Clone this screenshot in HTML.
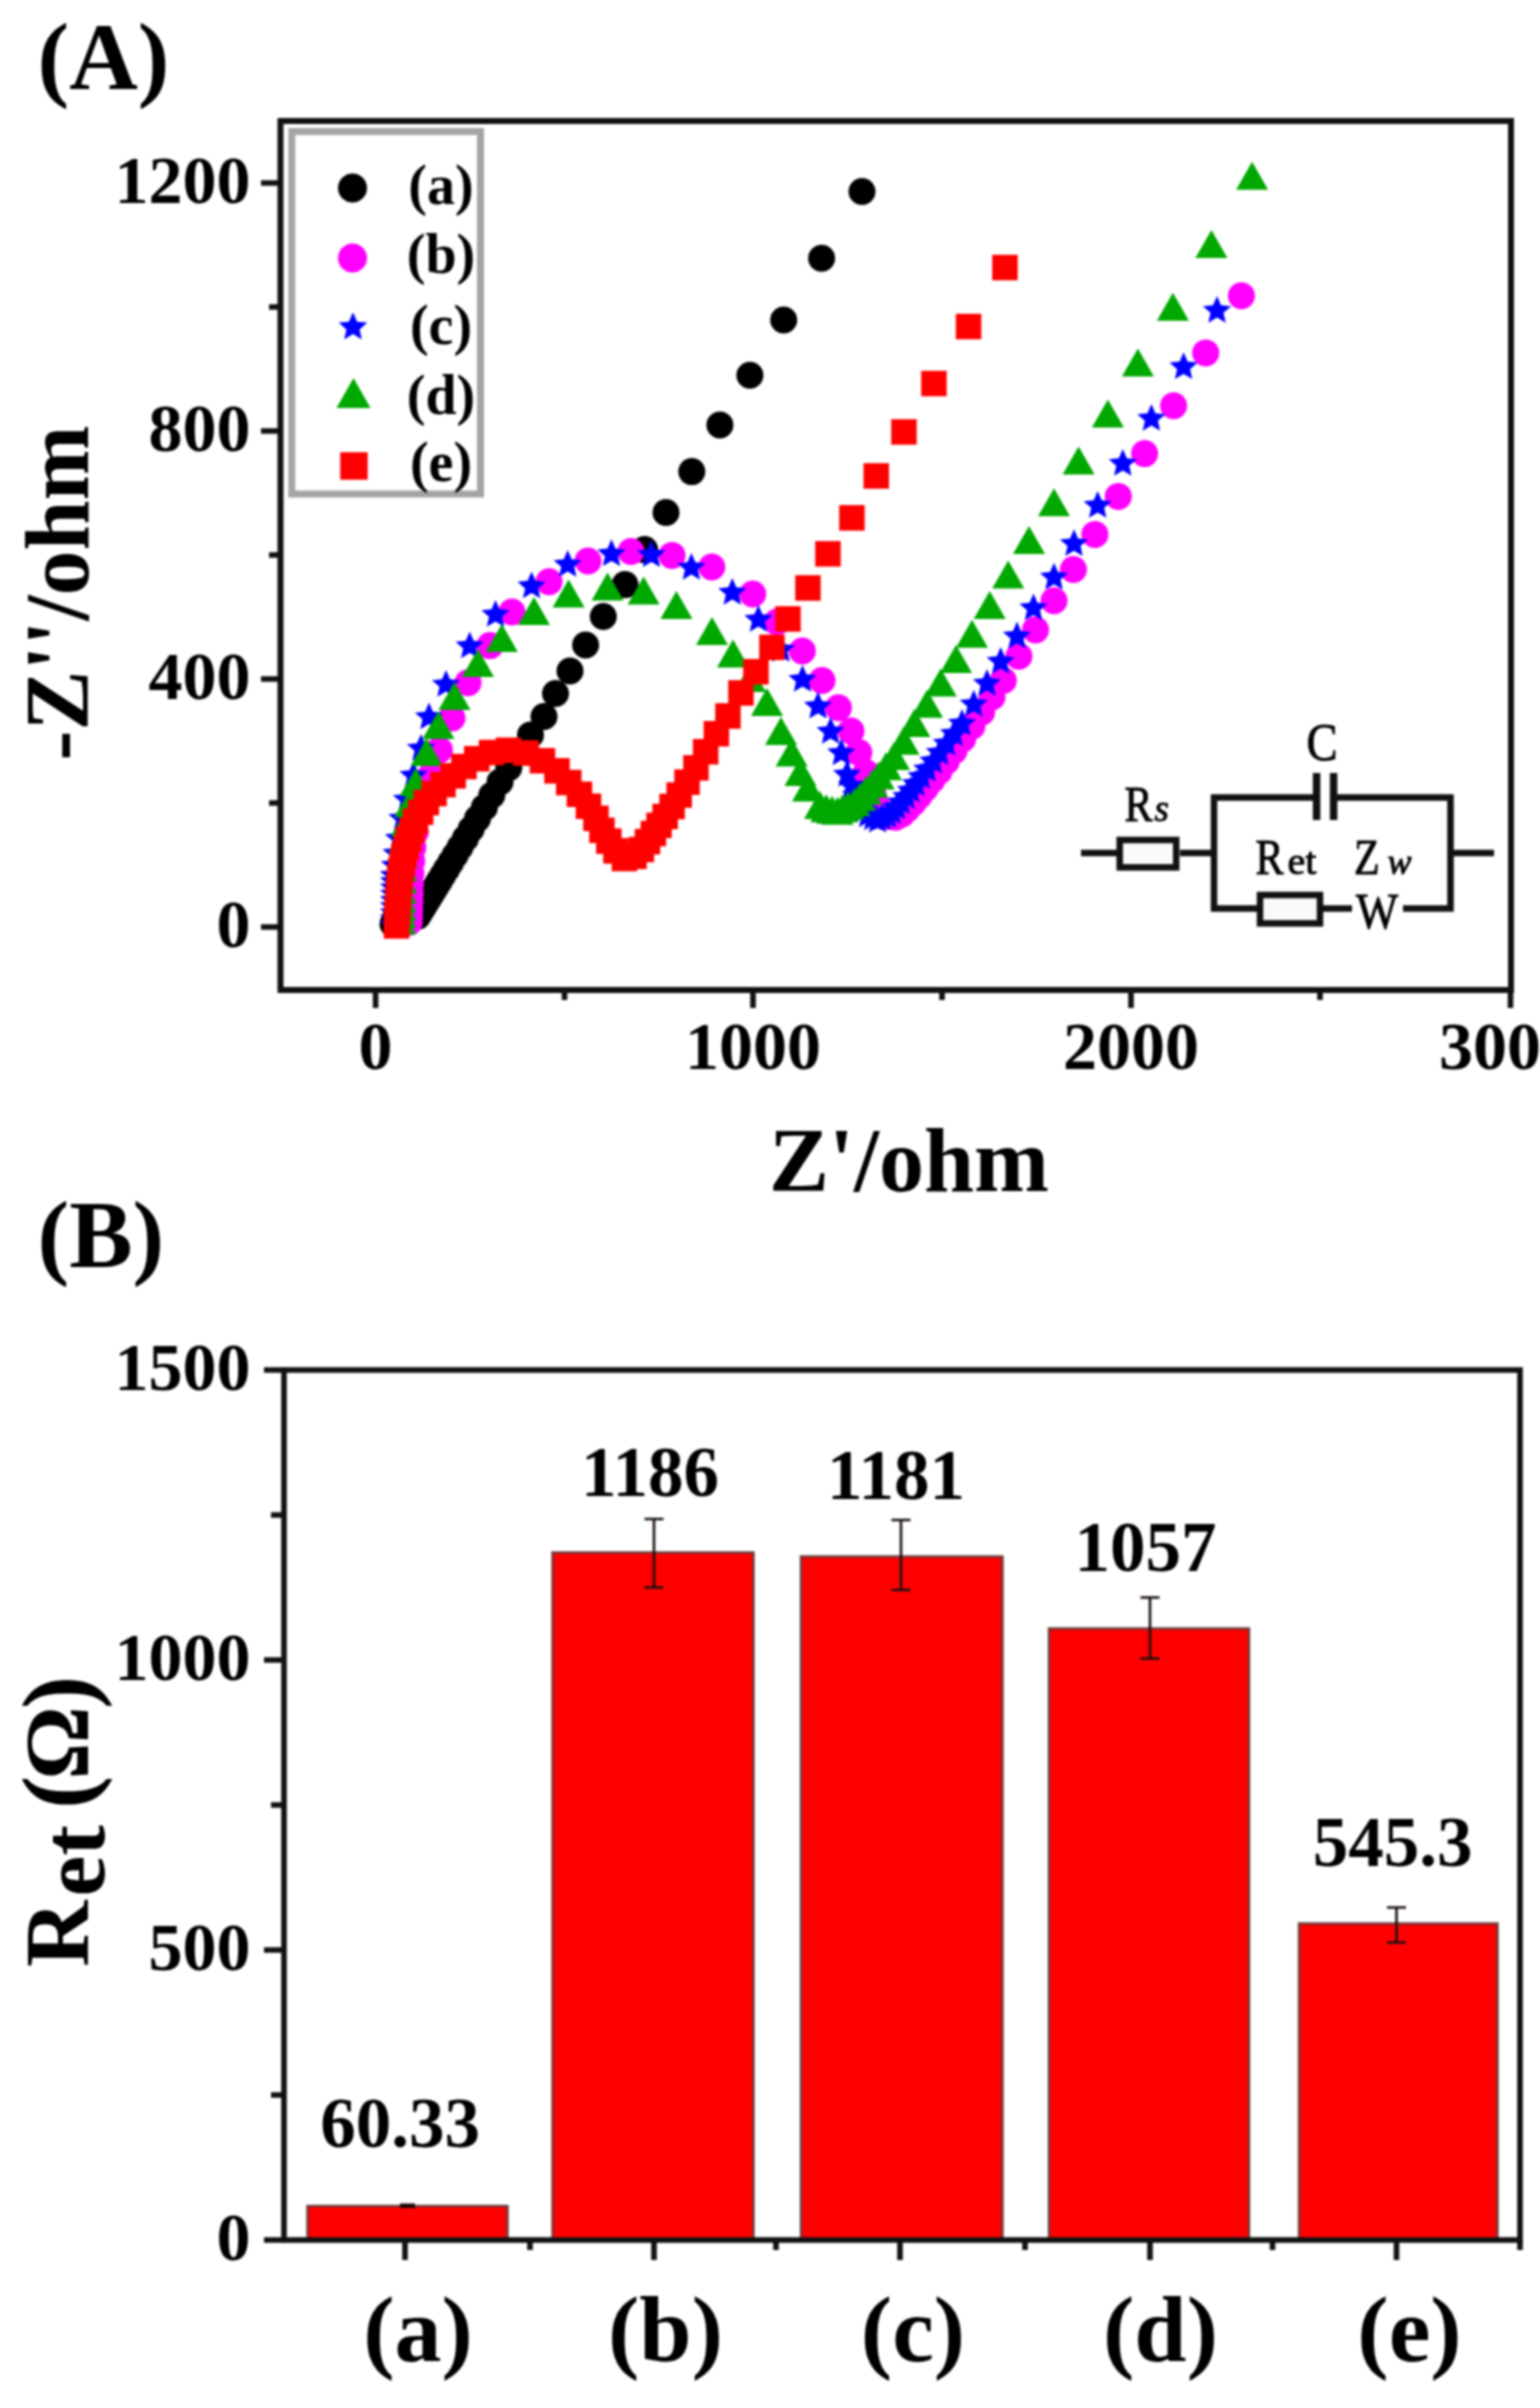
<!DOCTYPE html>
<html lang="en"><head><meta charset="utf-8"><title>EIS Nyquist plots and Ret bar chart</title>
<style>html,body{margin:0;padding:0;background:#fff}svg{display:block;filter:blur(1.2px)}</style></head>
<body>
<svg width="1540" height="2408" viewBox="0 0 1540 2408">
<rect width="1540" height="2408" fill="#fff"/>
<g id="chartA">
<rect x="291.8" y="131.5" width="188.7" height="362.5" fill="#fff" stroke="#a4a4a4" stroke-width="7"/>
<g id="sa"><circle cx="862.0" cy="191.5" r="13.5" fill="#000"/><circle cx="821.6" cy="258.2" r="13.5" fill="#000"/><circle cx="783.7" cy="320.0" r="13.5" fill="#000"/><circle cx="749.9" cy="375.2" r="13.5" fill="#000"/><circle cx="719.9" cy="425.0" r="13.5" fill="#000"/><circle cx="691.8" cy="471.6" r="13.5" fill="#000"/><circle cx="666.0" cy="512.5" r="13.5" fill="#000"/><circle cx="644.6" cy="549.6" r="13.5" fill="#000"/><circle cx="625.0" cy="584.6" r="13.5" fill="#000"/><circle cx="603.3" cy="616.5" r="13.5" fill="#000"/><circle cx="585.6" cy="645.0" r="13.5" fill="#000"/><circle cx="570.0" cy="671.0" r="13.5" fill="#000"/><circle cx="555.5" cy="693.5" r="13.5" fill="#000"/><circle cx="544.0" cy="716.5" r="13.5" fill="#000"/><circle cx="530.5" cy="735.0" r="13.5" fill="#000"/><circle cx="518.4" cy="752.0" r="13.5" fill="#000"/><circle cx="508.8" cy="767.6" r="13.5" fill="#000"/><circle cx="500.0" cy="782.0" r="13.5" fill="#000"/><circle cx="491.8" cy="795.3" r="13.5" fill="#000"/><circle cx="484.4" cy="807.4" r="13.5" fill="#000"/><circle cx="477.5" cy="818.6" r="13.5" fill="#000"/><circle cx="471.2" cy="829.0" r="13.5" fill="#000"/><circle cx="465.4" cy="838.4" r="13.5" fill="#000"/><circle cx="460.0" cy="847.2" r="13.5" fill="#000"/><circle cx="455.1" cy="855.2" r="13.5" fill="#000"/><circle cx="450.6" cy="862.6" r="13.5" fill="#000"/><circle cx="446.4" cy="869.4" r="13.5" fill="#000"/><circle cx="442.6" cy="875.6" r="13.5" fill="#000"/><circle cx="439.1" cy="881.4" r="13.5" fill="#000"/><circle cx="435.8" cy="886.7" r="13.5" fill="#000"/><circle cx="432.8" cy="891.5" r="13.5" fill="#000"/><circle cx="430.1" cy="896.0" r="13.5" fill="#000"/><circle cx="427.6" cy="900.1" r="13.5" fill="#000"/><circle cx="425.1" cy="904.1" r="13.5" fill="#000"/><circle cx="422.7" cy="908.1" r="13.5" fill="#000"/><circle cx="420.2" cy="912.1" r="13.5" fill="#000"/><circle cx="417.8" cy="916.1" r="13.5" fill="#000"/><circle cx="414.0" cy="916.0" r="13.5" fill="#000"/><circle cx="410.0" cy="912.0" r="13.5" fill="#000"/><circle cx="405.0" cy="909.0" r="13.5" fill="#000"/><circle cx="401.0" cy="910.0" r="13.5" fill="#000"/><circle cx="397.0" cy="914.0" r="13.5" fill="#000"/><circle cx="395.0" cy="919.0" r="13.5" fill="#000"/><circle cx="393.0" cy="924.0" r="13.5" fill="#000"/></g>
<g id="sb"><circle cx="1241.4" cy="295.7" r="13.5" fill="#ff00ff"/><circle cx="1205.7" cy="352.9" r="13.5" fill="#ff00ff"/><circle cx="1173.6" cy="405.7" r="13.5" fill="#ff00ff"/><circle cx="1144.6" cy="453.6" r="13.5" fill="#ff00ff"/><circle cx="1118.3" cy="496.4" r="13.5" fill="#ff00ff"/><circle cx="1094.9" cy="534.4" r="13.5" fill="#ff00ff"/><circle cx="1073.4" cy="569.5" r="13.5" fill="#ff00ff"/><circle cx="1054.0" cy="600.7" r="13.5" fill="#ff00ff"/><circle cx="1035.5" cy="629.9" r="13.5" fill="#ff00ff"/><circle cx="1018.9" cy="656.2" r="13.5" fill="#ff00ff"/><circle cx="1003.3" cy="680.5" r="13.5" fill="#ff00ff"/><circle cx="992.0" cy="697.0" r="13.5" fill="#ff00ff"/><circle cx="981.6" cy="712.3" r="13.5" fill="#ff00ff"/><circle cx="971.9" cy="726.2" r="13.5" fill="#ff00ff"/><circle cx="962.6" cy="738.9" r="13.5" fill="#ff00ff"/><circle cx="954.1" cy="750.7" r="13.5" fill="#ff00ff"/><circle cx="946.2" cy="761.5" r="13.5" fill="#ff00ff"/><circle cx="938.9" cy="771.4" r="13.5" fill="#ff00ff"/><circle cx="931.7" cy="780.3" r="13.5" fill="#ff00ff"/><circle cx="925.1" cy="788.4" r="13.5" fill="#ff00ff"/><circle cx="919.0" cy="796.0" r="13.5" fill="#ff00ff"/><circle cx="913.2" cy="802.8" r="13.5" fill="#ff00ff"/><circle cx="907.4" cy="808.6" r="13.5" fill="#ff00ff"/><circle cx="902.0" cy="814.0" r="13.5" fill="#ff00ff"/><circle cx="895.7" cy="817.2" r="13.5" fill="#ff00ff"/><circle cx="885.1" cy="816.6" r="13.5" fill="#ff00ff"/><circle cx="879.7" cy="812.3" r="13.5" fill="#ff00ff"/><circle cx="876.7" cy="804.6" r="13.5" fill="#ff00ff"/><circle cx="873.3" cy="795.7" r="13.5" fill="#ff00ff"/><circle cx="870.0" cy="785.1" r="13.5" fill="#ff00ff"/><circle cx="866.1" cy="772.7" r="13.5" fill="#ff00ff"/><circle cx="858.8" cy="752.5" r="13.5" fill="#ff00ff"/><circle cx="851.0" cy="731.0" r="13.5" fill="#ff00ff"/><circle cx="838.4" cy="707.7" r="13.5" fill="#ff00ff"/><circle cx="822.0" cy="680.5" r="13.5" fill="#ff00ff"/><circle cx="802.3" cy="651.0" r="13.5" fill="#ff00ff"/><circle cx="777.0" cy="622.0" r="13.5" fill="#ff00ff"/><circle cx="752.7" cy="594.0" r="13.5" fill="#ff00ff"/><circle cx="711.8" cy="567.0" r="13.5" fill="#ff00ff"/><circle cx="672.0" cy="555.4" r="13.5" fill="#ff00ff"/><circle cx="631.0" cy="551.5" r="13.5" fill="#ff00ff"/><circle cx="588.0" cy="561.0" r="13.5" fill="#ff00ff"/><circle cx="549.0" cy="581.7" r="13.5" fill="#ff00ff"/><circle cx="512.0" cy="612.0" r="13.5" fill="#ff00ff"/><circle cx="490.0" cy="645.6" r="13.5" fill="#ff00ff"/><circle cx="468.0" cy="682.7" r="13.5" fill="#ff00ff"/><circle cx="452.0" cy="718.0" r="13.5" fill="#ff00ff"/><circle cx="439.4" cy="750.0" r="13.5" fill="#ff00ff"/><circle cx="431.0" cy="775.6" r="13.5" fill="#ff00ff"/><circle cx="424.1" cy="796.5" r="13.5" fill="#ff00ff"/><circle cx="418.8" cy="815.3" r="13.5" fill="#ff00ff"/><circle cx="415.2" cy="832.3" r="13.5" fill="#ff00ff"/><circle cx="412.8" cy="847.5" r="13.5" fill="#ff00ff"/><circle cx="411.7" cy="861.1" r="13.5" fill="#ff00ff"/><circle cx="410.9" cy="873.2" r="13.5" fill="#ff00ff"/><circle cx="410.4" cy="884.0" r="13.5" fill="#ff00ff"/><circle cx="410.1" cy="893.6" r="13.5" fill="#ff00ff"/><circle cx="409.8" cy="902.1" r="13.5" fill="#ff00ff"/><circle cx="409.5" cy="909.7" r="13.5" fill="#ff00ff"/><circle cx="409.3" cy="916.4" r="13.5" fill="#ff00ff"/><circle cx="409.1" cy="922.3" r="13.5" fill="#ff00ff"/></g>
<g id="sc"><path d="M1217.0 295.9L1221.0 305.2L1231.1 306.2L1223.5 312.8L1225.7 322.7L1217.0 317.5L1208.3 322.7L1210.5 312.8L1202.9 306.2L1213.0 305.2Z" fill="#0000ff"/><path d="M1183.6 352.3L1187.6 361.6L1197.7 362.6L1190.1 369.2L1192.3 379.1L1183.6 373.9L1174.9 379.1L1177.1 369.2L1169.5 362.6L1179.6 361.6Z" fill="#0000ff"/><path d="M1151.4 403.9L1155.4 413.2L1165.5 414.2L1157.9 420.8L1160.1 430.7L1151.4 425.5L1142.7 430.7L1144.9 420.8L1137.3 414.2L1147.4 413.2Z" fill="#0000ff"/><path d="M1122.8 448.9L1126.8 458.2L1136.9 459.2L1129.3 465.8L1131.5 475.7L1122.8 470.5L1114.1 475.7L1116.3 465.8L1108.7 459.2L1118.8 458.2Z" fill="#0000ff"/><path d="M1097.7 490.9L1101.7 500.2L1111.8 501.2L1104.2 507.8L1106.4 517.7L1097.7 512.5L1089.0 517.7L1091.2 507.8L1083.6 501.2L1093.7 500.2Z" fill="#0000ff"/><path d="M1074.0 529.2L1078.0 538.5L1088.1 539.5L1080.5 546.1L1082.7 556.0L1074.0 550.8L1065.3 556.0L1067.5 546.1L1059.9 539.5L1070.0 538.5Z" fill="#0000ff"/><path d="M1054.0 562.7L1058.0 572.0L1068.1 573.0L1060.5 579.6L1062.7 589.5L1054.0 584.3L1045.3 589.5L1047.5 579.6L1039.9 573.0L1050.0 572.0Z" fill="#0000ff"/><path d="M1033.5 593.4L1037.5 602.7L1047.6 603.7L1040.0 610.3L1042.2 620.2L1033.5 615.0L1024.8 620.2L1027.0 610.3L1019.4 603.7L1029.5 602.7Z" fill="#0000ff"/><path d="M1017.0 621.6L1021.0 630.9L1031.1 631.9L1023.5 638.5L1025.7 648.4L1017.0 643.2L1008.3 648.4L1010.5 638.5L1002.9 631.9L1013.0 630.9Z" fill="#0000ff"/><path d="M1000.7 646.9L1004.7 656.2L1014.8 657.2L1007.2 663.8L1009.4 673.7L1000.7 668.5L992.0 673.7L994.2 663.8L986.6 657.2L996.7 656.2Z" fill="#0000ff"/><path d="M987.0 668.9L991.0 678.2L1001.1 679.2L993.5 685.8L995.7 695.7L987.0 690.5L978.3 695.7L980.5 685.8L972.9 679.2L983.0 678.2Z" fill="#0000ff"/><path d="M973.8 689.7L977.8 699.0L987.9 700.0L980.3 706.6L982.5 716.5L973.8 711.3L965.1 716.5L967.3 706.6L959.7 700.0L969.8 699.0Z" fill="#0000ff"/><path d="M962.0 708.9L966.0 718.2L976.1 719.2L968.5 725.8L970.7 735.7L962.0 730.5L953.3 735.7L955.5 725.8L947.9 719.2L958.0 718.2Z" fill="#0000ff"/><path d="M954.1 719.3L958.1 728.6L968.2 729.5L960.6 736.2L962.8 746.1L954.1 740.9L945.4 746.1L947.6 736.2L940.0 729.5L950.1 728.6Z" fill="#0000ff"/><path d="M946.7 729.0L950.7 738.3L960.8 739.2L953.2 745.9L955.4 755.8L946.7 750.6L938.0 755.8L940.3 745.9L932.7 739.2L942.7 738.3Z" fill="#0000ff"/><path d="M939.8 738.1L943.8 747.4L953.9 748.3L946.3 755.0L948.5 764.9L939.8 759.7L931.1 764.9L933.3 755.0L925.7 748.3L935.8 747.4Z" fill="#0000ff"/><path d="M933.3 746.7L937.3 755.9L947.3 756.9L939.7 763.6L942.0 773.4L933.3 768.3L924.6 773.4L926.8 763.6L919.2 756.9L929.3 755.9Z" fill="#0000ff"/><path d="M927.2 754.7L931.2 764.0L941.2 764.9L933.6 771.6L935.9 781.5L927.2 776.3L918.5 781.5L920.7 771.6L913.1 764.9L923.2 764.0Z" fill="#0000ff"/><path d="M921.4 762.2L925.4 771.5L935.5 772.5L927.9 779.1L930.1 789.0L921.4 783.8L912.7 789.0L915.0 779.1L907.4 772.5L917.4 771.5Z" fill="#0000ff"/><path d="M916.1 769.3L920.1 778.6L930.1 779.6L922.5 786.2L924.8 796.1L916.1 790.9L907.4 796.1L909.6 786.2L902.0 779.6L912.1 778.6Z" fill="#0000ff"/><path d="M911.0 776.0L915.0 785.3L925.1 786.2L917.5 792.9L919.7 802.8L911.0 797.6L902.3 802.8L904.6 792.9L897.0 786.2L907.0 785.3Z" fill="#0000ff"/><path d="M906.3 782.2L910.3 791.5L920.4 792.5L912.8 799.1L915.0 809.0L906.3 803.8L897.6 809.0L899.8 799.1L892.2 792.5L902.3 791.5Z" fill="#0000ff"/><path d="M901.4 787.7L905.4 797.0L915.5 798.0L907.9 804.6L910.1 814.5L901.4 809.3L892.7 814.5L895.0 804.6L887.4 798.0L897.4 797.0Z" fill="#0000ff"/><path d="M896.7 792.8L900.7 802.1L910.8 803.0L903.2 809.7L905.4 819.5L896.7 814.4L888.0 819.5L890.2 809.7L882.6 803.0L892.7 802.1Z" fill="#0000ff"/><path d="M892.3 797.5L896.3 806.8L906.4 807.7L898.8 814.4L901.0 824.3L892.3 819.1L883.6 824.3L885.8 814.4L878.2 807.7L888.3 806.8Z" fill="#0000ff"/><path d="M887.5 801.1L891.5 810.4L901.6 811.3L894.0 818.0L896.2 827.9L887.5 822.7L878.8 827.9L881.0 818.0L873.4 811.3L883.5 810.4Z" fill="#0000ff"/><path d="M882.3 803.5L886.3 812.8L896.4 813.7L888.8 820.4L891.0 830.3L882.3 825.1L873.6 830.3L875.9 820.4L868.3 813.7L878.3 812.8Z" fill="#0000ff"/><path d="M877.5 805.7L881.5 815.0L891.5 816.0L883.9 822.6L886.2 832.5L877.5 827.3L868.8 832.5L871.0 822.6L863.4 816.0L873.5 815.0Z" fill="#0000ff"/><path d="M872.7 803.4L876.7 812.7L886.8 813.6L879.2 820.3L881.4 830.2L872.7 825.0L864.0 830.2L866.2 820.3L858.6 813.6L868.7 812.7Z" fill="#0000ff"/><path d="M867.7 800.5L871.7 809.8L881.8 810.7L874.2 817.4L876.4 827.3L867.7 822.1L859.0 827.3L861.2 817.4L853.6 810.7L863.7 809.8Z" fill="#0000ff"/><path d="M863.4 795.7L867.4 805.0L877.5 805.9L869.9 812.6L872.1 822.5L863.4 817.3L854.7 822.5L856.9 812.6L849.3 805.9L859.4 805.0Z" fill="#0000ff"/><path d="M859.9 788.8L863.9 798.1L874.0 799.0L866.4 805.7L868.6 815.5L859.9 810.4L851.2 815.5L853.4 805.7L845.8 799.0L855.9 798.1Z" fill="#0000ff"/><path d="M855.9 780.7L859.9 790.0L870.0 790.9L862.4 797.6L864.6 807.5L855.9 802.3L847.2 807.5L849.4 797.6L841.8 790.9L851.9 790.0Z" fill="#0000ff"/><path d="M851.8 771.1L855.8 780.4L865.9 781.4L858.3 788.0L860.5 797.9L851.8 792.7L843.1 797.9L845.3 788.0L837.7 781.4L847.8 780.4Z" fill="#0000ff"/><path d="M847.0 760.0L851.0 769.3L861.1 770.3L853.5 776.9L855.7 786.8L847.0 781.6L838.3 786.8L840.6 776.9L833.0 770.3L843.0 769.3Z" fill="#0000ff"/><path d="M841.3 738.4L845.3 747.7L855.4 748.7L847.8 755.3L850.0 765.2L841.3 760.0L832.6 765.2L834.8 755.3L827.2 748.7L837.3 747.7Z" fill="#0000ff"/><path d="M830.6 716.9L834.6 726.2L844.7 727.2L837.1 733.8L839.3 743.7L830.6 738.5L821.9 743.7L824.1 733.8L816.5 727.2L826.6 726.2Z" fill="#0000ff"/><path d="M818.0 691.6L822.0 700.9L832.1 701.9L824.5 708.5L826.7 718.4L818.0 713.2L809.3 718.4L811.5 708.5L803.9 701.9L814.0 700.9Z" fill="#0000ff"/><path d="M802.5 664.9L806.5 674.2L816.6 675.2L809.0 681.8L811.2 691.7L802.5 686.5L793.8 691.7L796.0 681.8L788.4 675.2L798.5 674.2Z" fill="#0000ff"/><path d="M781.0 634.9L785.0 644.2L795.1 645.2L787.5 651.8L789.7 661.7L781.0 656.5L772.3 661.7L774.5 651.8L766.9 645.2L777.0 644.2Z" fill="#0000ff"/><path d="M758.4 604.9L762.4 614.2L772.5 615.2L764.9 621.8L767.1 631.7L758.4 626.5L749.7 631.7L751.9 621.8L744.3 615.2L754.4 614.2Z" fill="#0000ff"/><path d="M732.3 577.9L736.3 587.2L746.4 588.2L738.8 594.8L741.0 604.7L732.3 599.5L723.6 604.7L725.8 594.8L718.2 588.2L728.3 587.2Z" fill="#0000ff"/><path d="M691.4 552.9L695.4 562.2L705.5 563.2L697.9 569.8L700.1 579.7L691.4 574.5L682.7 579.7L684.9 569.8L677.3 563.2L687.4 562.2Z" fill="#0000ff"/><path d="M651.4 540.3L655.4 549.6L665.5 550.6L657.9 557.2L660.1 567.1L651.4 561.9L642.7 567.1L644.9 557.2L637.3 550.6L647.4 549.6Z" fill="#0000ff"/><path d="M611.5 539.3L615.5 548.6L625.6 549.6L618.0 556.2L620.2 566.1L611.5 560.9L602.8 566.1L605.0 556.2L597.4 549.6L607.5 548.6Z" fill="#0000ff"/><path d="M567.7 549.9L571.7 559.2L581.8 560.2L574.2 566.8L576.4 576.7L567.7 571.5L559.0 576.7L561.2 566.8L553.6 560.2L563.7 559.2Z" fill="#0000ff"/><path d="M531.6 571.5L535.6 580.8L545.7 581.8L538.1 588.4L540.3 598.3L531.6 593.1L522.9 598.3L525.1 588.4L517.5 581.8L527.6 580.8Z" fill="#0000ff"/><path d="M495.5 599.9L499.5 609.2L509.6 610.2L502.0 616.8L504.2 626.7L495.5 621.5L486.8 626.7L489.0 616.8L481.4 610.2L491.5 609.2Z" fill="#0000ff"/><path d="M469.7 631.5L473.7 640.8L483.8 641.8L476.2 648.4L478.4 658.3L469.7 653.1L461.0 658.3L463.2 648.4L455.6 641.8L465.7 640.8Z" fill="#0000ff"/><path d="M446.0 669.9L450.0 679.2L460.1 680.2L452.5 686.8L454.7 696.7L446.0 691.5L437.3 696.7L439.5 686.8L431.9 680.2L442.0 679.2Z" fill="#0000ff"/><path d="M429.0 702.4L433.0 711.7L443.1 712.7L435.5 719.3L437.7 729.2L429.0 724.0L420.3 729.2L422.5 719.3L414.9 712.7L425.0 711.7Z" fill="#0000ff"/><path d="M421.0 733.9L425.0 743.2L435.1 744.2L427.5 750.8L429.7 760.7L421.0 755.5L412.3 760.7L414.5 750.8L406.9 744.2L417.0 743.2Z" fill="#0000ff"/><path d="M413.5 760.9L417.5 770.2L427.6 771.2L420.0 777.8L422.2 787.7L413.5 782.5L404.8 787.7L407.0 777.8L399.4 771.2L409.5 770.2Z" fill="#0000ff"/><path d="M407.0 784.9L411.0 794.2L421.1 795.2L413.5 801.8L415.7 811.7L407.0 806.5L398.3 811.7L400.5 801.8L392.9 795.2L403.0 794.2Z" fill="#0000ff"/><path d="M402.5 803.9L406.5 813.2L416.6 814.2L409.0 820.8L411.2 830.7L402.5 825.5L393.8 830.7L396.0 820.8L388.4 814.2L398.5 813.2Z" fill="#0000ff"/><path d="M399.0 823.9L403.0 833.2L413.1 834.2L405.5 840.8L407.7 850.7L399.0 845.5L390.3 850.7L392.5 840.8L384.9 834.2L395.0 833.2Z" fill="#0000ff"/><path d="M396.6 838.9L400.6 848.2L410.7 849.2L403.1 855.8L405.3 865.7L396.6 860.5L387.9 865.7L390.1 855.8L382.5 849.2L392.6 848.2Z" fill="#0000ff"/><path d="M395.0 850.9L399.0 860.2L409.1 861.2L401.5 867.8L403.7 877.7L395.0 872.5L386.3 877.7L388.5 867.8L380.9 861.2L391.0 860.2Z" fill="#0000ff"/><path d="M394.0 860.9L398.0 870.2L408.1 871.2L400.5 877.8L402.7 887.7L394.0 882.5L385.3 887.7L387.5 877.8L379.9 871.2L390.0 870.2Z" fill="#0000ff"/><path d="M394.0 867.2L398.0 876.5L408.1 877.4L400.5 884.1L402.7 894.0L394.0 888.8L385.3 894.0L387.5 884.1L379.9 877.4L390.0 876.5Z" fill="#0000ff"/><path d="M394.0 873.4L398.0 882.7L408.1 883.7L400.5 890.3L402.7 900.2L394.0 895.0L385.3 900.2L387.5 890.3L379.9 883.7L390.0 882.7Z" fill="#0000ff"/><path d="M394.0 879.7L398.0 889.0L408.1 889.9L400.5 896.6L402.7 906.5L394.0 901.3L385.3 906.5L387.5 896.6L379.9 889.9L390.0 889.0Z" fill="#0000ff"/><path d="M394.0 885.9L398.0 895.2L408.1 896.2L400.5 902.8L402.7 912.7L394.0 907.5L385.3 912.7L387.5 902.8L379.9 896.2L390.0 895.2Z" fill="#0000ff"/><path d="M394.0 892.2L398.0 901.5L408.1 902.4L400.5 909.1L402.7 919.0L394.0 913.8L385.3 919.0L387.5 909.1L379.9 902.4L390.0 901.5Z" fill="#0000ff"/><path d="M394.0 898.4L398.0 907.7L408.1 908.7L400.5 915.3L402.7 925.2L394.0 920.0L385.3 925.2L387.5 915.3L379.9 908.7L390.0 907.7Z" fill="#0000ff"/><path d="M394.0 904.7L398.0 914.0L408.1 914.9L400.5 921.6L402.7 931.5L394.0 926.3L385.3 931.5L387.5 921.6L379.9 914.9L390.0 914.0Z" fill="#0000ff"/><path d="M394.0 910.9L398.0 920.2L408.1 921.2L400.5 927.8L402.7 937.7L394.0 932.5L385.3 937.7L387.5 927.8L379.9 921.2L390.0 920.2Z" fill="#0000ff"/></g>
<g id="sd"><path d="M1252.1 161.7L1268.1 189.7H1236.1Z" fill="#00a800"/><path d="M1211.4 230.0L1227.4 258.0H1195.4Z" fill="#00a800"/><path d="M1172.9 292.8L1188.9 320.8H1156.9Z" fill="#00a800"/><path d="M1137.9 348.5L1153.9 376.5H1121.9Z" fill="#00a800"/><path d="M1107.9 399.5L1123.9 427.5H1091.9Z" fill="#00a800"/><path d="M1078.6 446.6L1094.6 474.6H1062.6Z" fill="#00a800"/><path d="M1054.0 488.3L1070.0 516.3H1038.0Z" fill="#00a800"/><path d="M1029.0 526.0L1045.0 554.0H1013.0Z" fill="#00a800"/><path d="M1008.2 560.4L1024.2 588.4H992.2Z" fill="#00a800"/><path d="M989.7 591.0L1005.7 619.0H973.7Z" fill="#00a800"/><path d="M972.0 619.8L988.0 647.8H956.0Z" fill="#00a800"/><path d="M956.0 645.0L972.0 673.0H940.0Z" fill="#00a800"/><path d="M940.7 668.5L956.7 696.5H924.7Z" fill="#00a800"/><path d="M927.0 689.8L943.0 717.8H911.0Z" fill="#00a800"/><path d="M914.4 709.0L930.4 737.0H898.4Z" fill="#00a800"/><path d="M903.6 726.8L919.6 754.8H887.6Z" fill="#00a800"/><path d="M894.0 742.0L910.0 770.0H878.0Z" fill="#00a800"/><path d="M886.0 752.2L902.0 780.2H870.0Z" fill="#00a800"/><path d="M878.7 761.4L894.7 789.4H862.7Z" fill="#00a800"/><path d="M872.2 769.7L888.2 797.7H856.2Z" fill="#00a800"/><path d="M865.7 776.6L881.7 804.6H849.7Z" fill="#00a800"/><path d="M859.9 782.9L875.9 810.9H843.9Z" fill="#00a800"/><path d="M854.4 788.3L870.4 816.3H838.4Z" fill="#00a800"/><path d="M848.2 791.4L864.2 819.4H832.2Z" fill="#00a800"/><path d="M842.6 794.2L858.6 822.2H826.6Z" fill="#00a800"/><path d="M837.6 796.7L853.6 824.7H821.6Z" fill="#00a800"/><path d="M832.1 795.8L848.1 823.8H816.1Z" fill="#00a800"/><path d="M826.3 794.3L842.3 822.3H810.3Z" fill="#00a800"/><path d="M820.0 791.1L836.0 819.1H804.0Z" fill="#00a800"/><path d="M808.0 773.5L824.0 801.5H792.0Z" fill="#00a800"/><path d="M800.4 758.0L816.4 786.0H784.4Z" fill="#00a800"/><path d="M791.6 738.5L807.6 766.5H775.6Z" fill="#00a800"/><path d="M781.0 717.0L797.0 745.0H765.0Z" fill="#00a800"/><path d="M767.0 688.0L783.0 716.0H751.0Z" fill="#00a800"/><path d="M750.0 664.0L766.0 692.0H734.0Z" fill="#00a800"/><path d="M733.0 639.5L749.0 667.5H717.0Z" fill="#00a800"/><path d="M712.0 617.0L728.0 645.0H696.0Z" fill="#00a800"/><path d="M676.4 591.0L692.4 619.0H660.4Z" fill="#00a800"/><path d="M643.6 576.5L659.6 604.5H627.6Z" fill="#00a800"/><path d="M607.6 572.6L623.6 600.6H591.6Z" fill="#00a800"/><path d="M568.6 579.4L584.6 607.4H552.6Z" fill="#00a800"/><path d="M534.0 597.0L550.0 625.0H518.0Z" fill="#00a800"/><path d="M501.8 624.0L517.8 652.0H485.8Z" fill="#00a800"/><path d="M478.0 649.0L494.0 677.0H462.0Z" fill="#00a800"/><path d="M454.5 682.0L470.5 710.0H438.5Z" fill="#00a800"/><path d="M438.5 711.0L454.5 739.0H422.5Z" fill="#00a800"/><path d="M426.7 738.0L442.7 766.0H410.7Z" fill="#00a800"/><path d="M415.7 768.0L431.7 796.0H399.7Z" fill="#00a800"/><path d="M410.2 789.3L426.2 817.3H394.2Z" fill="#00a800"/><path d="M406.6 808.4L422.6 836.4H390.6Z" fill="#00a800"/><path d="M404.2 825.3L420.2 853.3H388.2Z" fill="#00a800"/><path d="M402.4 840.3L418.4 868.3H386.4Z" fill="#00a800"/><path d="M401.6 853.6L417.6 881.6H385.6Z" fill="#00a800"/><path d="M401.2 865.4L417.2 893.4H385.2Z" fill="#00a800"/><path d="M400.9 875.7L416.9 903.7H384.9Z" fill="#00a800"/><path d="M400.7 884.9L416.7 912.9H384.7Z" fill="#00a800"/><path d="M400.5 893.0L416.5 921.0H384.5Z" fill="#00a800"/><path d="M400.3 900.1L416.3 928.1H384.3Z" fill="#00a800"/><path d="M400.1 906.4L416.1 934.4H384.1Z" fill="#00a800"/></g>
<g id="se"><rect x="992.2" y="254.8" width="25.5" height="25.5" fill="#ff0000"/><rect x="955.8" y="313.8" width="25.5" height="25.5" fill="#ff0000"/><rect x="921.2" y="370.8" width="25.5" height="25.5" fill="#ff0000"/><rect x="891.2" y="419.2" width="25.5" height="25.5" fill="#ff0000"/><rect x="863.5" y="463.2" width="25.5" height="25.5" fill="#ff0000"/><rect x="839.2" y="505.1" width="25.5" height="25.5" fill="#ff0000"/><rect x="815.2" y="541.1" width="25.5" height="25.5" fill="#ff0000"/><rect x="795.2" y="575.2" width="25.5" height="25.5" fill="#ff0000"/><rect x="775.2" y="606.2" width="25.5" height="25.5" fill="#ff0000"/><rect x="759.2" y="634.6" width="25.5" height="25.5" fill="#ff0000"/><rect x="743.2" y="659.0" width="25.5" height="25.5" fill="#ff0000"/><rect x="728.2" y="680.2" width="25.5" height="25.5" fill="#ff0000"/><rect x="715.2" y="703.2" width="25.5" height="25.5" fill="#ff0000"/><rect x="703.6" y="721.0" width="25.5" height="25.5" fill="#ff0000"/><rect x="692.9" y="739.0" width="25.5" height="25.5" fill="#ff0000"/><rect x="683.2" y="755.1" width="25.5" height="25.5" fill="#ff0000"/><rect x="674.3" y="769.4" width="25.5" height="25.5" fill="#ff0000"/><rect x="666.4" y="782.3" width="25.5" height="25.5" fill="#ff0000"/><rect x="659.3" y="793.7" width="25.5" height="25.5" fill="#ff0000"/><rect x="652.4" y="803.7" width="25.5" height="25.5" fill="#ff0000"/><rect x="646.3" y="812.6" width="25.5" height="25.5" fill="#ff0000"/><rect x="640.6" y="820.8" width="25.5" height="25.5" fill="#ff0000"/><rect x="634.7" y="828.9" width="25.5" height="25.5" fill="#ff0000"/><rect x="628.6" y="836.8" width="25.5" height="25.5" fill="#ff0000"/><rect x="621.2" y="843.6" width="25.5" height="25.5" fill="#ff0000"/><rect x="611.7" y="845.8" width="25.5" height="25.5" fill="#ff0000"/><rect x="603.2" y="838.1" width="25.5" height="25.5" fill="#ff0000"/><rect x="596.1" y="828.4" width="25.5" height="25.5" fill="#ff0000"/><rect x="589.2" y="817.6" width="25.5" height="25.5" fill="#ff0000"/><rect x="583.2" y="805.6" width="25.5" height="25.5" fill="#ff0000"/><rect x="575.7" y="793.5" width="25.5" height="25.5" fill="#ff0000"/><rect x="566.7" y="781.5" width="25.5" height="25.5" fill="#ff0000"/><rect x="556.0" y="769.8" width="25.5" height="25.5" fill="#ff0000"/><rect x="544.2" y="758.1" width="25.5" height="25.5" fill="#ff0000"/><rect x="529.7" y="748.0" width="25.5" height="25.5" fill="#ff0000"/><rect x="513.4" y="740.3" width="25.5" height="25.5" fill="#ff0000"/><rect x="495.7" y="737.5" width="25.5" height="25.5" fill="#ff0000"/><rect x="478.8" y="739.8" width="25.5" height="25.5" fill="#ff0000"/><rect x="464.0" y="746.0" width="25.5" height="25.5" fill="#ff0000"/><rect x="451.2" y="753.8" width="25.5" height="25.5" fill="#ff0000"/><rect x="440.4" y="763.1" width="25.5" height="25.5" fill="#ff0000"/><rect x="430.2" y="771.9" width="25.5" height="25.5" fill="#ff0000"/><rect x="421.3" y="780.8" width="25.5" height="25.5" fill="#ff0000"/><rect x="413.6" y="789.8" width="25.5" height="25.5" fill="#ff0000"/><rect x="407.9" y="799.4" width="25.5" height="25.5" fill="#ff0000"/><rect x="402.7" y="808.5" width="25.5" height="25.5" fill="#ff0000"/><rect x="399.2" y="817.7" width="25.5" height="25.5" fill="#ff0000"/><rect x="395.9" y="826.4" width="25.5" height="25.5" fill="#ff0000"/><rect x="393.4" y="834.8" width="25.5" height="25.5" fill="#ff0000"/><rect x="391.2" y="842.7" width="25.5" height="25.5" fill="#ff0000"/><rect x="389.6" y="850.3" width="25.5" height="25.5" fill="#ff0000"/><rect x="388.2" y="857.4" width="25.5" height="25.5" fill="#ff0000"/><rect x="387.1" y="864.1" width="25.5" height="25.5" fill="#ff0000"/><rect x="386.6" y="870.5" width="25.5" height="25.5" fill="#ff0000"/><rect x="386.1" y="876.6" width="25.5" height="25.5" fill="#ff0000"/><rect x="385.7" y="882.2" width="25.5" height="25.5" fill="#ff0000"/><rect x="385.2" y="887.6" width="25.5" height="25.5" fill="#ff0000"/><rect x="384.9" y="892.6" width="25.5" height="25.5" fill="#ff0000"/><rect x="384.7" y="897.3" width="25.5" height="25.5" fill="#ff0000"/><rect x="384.4" y="901.8" width="25.5" height="25.5" fill="#ff0000"/><rect x="384.2" y="905.9" width="25.5" height="25.5" fill="#ff0000"/><rect x="383.9" y="909.9" width="25.5" height="25.5" fill="#ff0000"/><rect x="383.8" y="913.2" width="25.5" height="25.5" fill="#ff0000"/></g>
<rect x="280.5" y="121" width="1230.5" height="869" fill="none" stroke="#111" stroke-width="6"/>
<path d="M261 183H280.5M261 431H280.5M261 679H280.5M261 927H280.5M269 307H280.5M269 555H280.5M269 803H280.5M375.6 990V1008M753 990V1008M1131 990V1008M1510.5 990V1008M564.5 990V1000M942 990V1000M1320 990V1000" stroke="#111" stroke-width="5.6" fill="none"/>
<g font-family="Liberation Serif, serif" font-weight="bold" font-size="68" fill="#000">
<text x="250.5" y="202.7" text-anchor="end">1200</text>
<text x="250.5" y="450.7" text-anchor="end">800</text>
<text x="250.5" y="698.7" text-anchor="end">400</text>
<text x="250.5" y="946.7" text-anchor="end">0</text>
<text x="375.6" y="1068.5" text-anchor="middle">0</text>
<text x="753" y="1068.5" text-anchor="middle">1000</text>
<text x="1131" y="1068.5" text-anchor="middle">2000</text>
<text x="1507" y="1068.5" text-anchor="middle">3000</text>
</g>
<text x="909" y="1191" text-anchor="middle" font-family="Liberation Serif, serif" font-weight="bold" font-size="90" fill="#000">Z'/ohm</text>
<text transform="translate(88 593) rotate(-90)" text-anchor="middle" font-family="Liberation Serif, serif" font-weight="bold" font-size="90" fill="#000">-Z''/ohm</text>
<text x="37.5" y="88.5" font-family="Liberation Serif, serif" font-weight="bold" font-size="95" fill="#000">(A)</text>
<circle cx="352.5" cy="188.0" r="14.5" fill="#000"/>
<circle cx="352.5" cy="258.0" r="14.5" fill="#ff00ff"/>
<path d="M353.0 312.2L357.1 321.7L367.3 322.6L359.6 329.4L361.8 339.4L353.0 334.1L344.2 339.4L346.4 329.4L338.7 322.6L348.9 321.7Z" fill="#0000ff"/>
<path d="M353.5 378.0L370.5 408.0H336.5Z" fill="#00a800"/>
<rect x="340.2" y="452.2" width="27.5" height="27.5" fill="#ff0000"/>
<g font-family="Liberation Serif, serif" font-weight="bold" font-size="56" fill="#000">
<text x="441" y="203.5" text-anchor="middle">(a)</text>
<text x="441" y="272.5" text-anchor="middle">(b)</text>
<text x="441" y="343.5" text-anchor="middle">(c)</text>
<text x="441" y="413.5" text-anchor="middle">(d)</text>
<text x="441" y="480.5" text-anchor="middle">(e)</text>
</g>
<g stroke="#111" stroke-width="6.5" fill="none">
<path d="M1081 853H1117M1180 853H1214M1450.5 853H1494"/>
<rect x="1119.7" y="840" width="56.5" height="27.4" fill="#fafafa"/>
<path d="M1316.6 797.5H1214V908.5H1257M1322 908.5H1352M1403 908.5H1450.5V797.5H1333.6"/>
<path d="M1316.6 773V820M1333.6 773V820" stroke-width="7.5"/>
<rect x="1260" y="895" width="60" height="28.4" fill="#fafafa"/>
</g>
<g font-family="Liberation Serif, serif" fill="#000" stroke="#000" stroke-width="0.9">
<text transform="translate(1306.5 760) scale(.88 1)" font-size="53">C</text>
<text transform="translate(1124.5 821.3) scale(.84 1)" font-size="50">R</text>
<text x="1154.5" y="821.3" font-size="37" font-style="italic">s</text>
<text transform="translate(1255.4 873.8) scale(.84 1)" font-size="50">R</text>
<text x="1287.5" y="873.8" font-size="37" textLength="29" lengthAdjust="spacingAndGlyphs">et</text>
<text transform="translate(1354 873.8) scale(.84 1)" font-size="50">Z</text>
<text x="1387.5" y="873.8" font-size="36" font-style="italic">w</text>
<text transform="translate(1356 928) scale(.875 1)" font-size="51">W</text>
</g>
</g>
<g id="chartB">
<rect x="307.5" y="2206" width="200.0" height="34" fill="#ff0000" stroke="#6a3c3c" stroke-width="2.4"/>
<rect x="552.5" y="1552.5" width="201.0" height="687.5" fill="#ff0000" stroke="#6a3c3c" stroke-width="2.4"/>
<rect x="801" y="1556.5" width="201.5" height="683.5" fill="#ff0000" stroke="#6a3c3c" stroke-width="2.4"/>
<rect x="1049" y="1628.5" width="200" height="611.5" fill="#ff0000" stroke="#6a3c3c" stroke-width="2.4"/>
<rect x="1299" y="1923.5" width="198.5" height="316.5" fill="#ff0000" stroke="#6a3c3c" stroke-width="2.4"/>
<path d="M654 1519V1587.5M644.5 1519H663.5M644.5 1587.5H663.5M901 1520V1590M891.5 1520H910.5M891.5 1590H910.5M1150 1597.5V1658.5M1140.5 1597.5H1159.5M1140.5 1658.5H1159.5M1396.5 1907.5V1942.5M1387.0 1907.5H1406.0M1387.0 1942.5H1406.0" stroke="#1c1010" stroke-width="2.6" fill="none"/>
<rect x="400" y="2203.5" width="15" height="4.5" fill="#1a0505"/>
<rect x="284" y="1370" width="1236" height="870" fill="none" stroke="#111" stroke-width="5.6"/>
<path d="M264 1370H284M264 1660H284M264 1950H284M264 2240H284M271 1515H284M271 1805H284M271 2095H284M405 2240V2260M654 2240V2260M900 2240V2260M1150 2240V2260M1396.5 2240V2260M530 2240V2250M776 2240V2250M1025 2240V2250M1272.5 2240V2250M1520 2240V2250" stroke="#111" stroke-width="5.6" fill="none"/>
<g font-family="Liberation Serif, serif" font-weight="bold" font-size="68" fill="#000">
<text x="250.5" y="1389.7" text-anchor="end">1500</text>
<text x="250.5" y="1679.7" text-anchor="end">1000</text>
<text x="250.5" y="1969.7" text-anchor="end">500</text>
<text x="250.5" y="2259.7" text-anchor="end">0</text>
</g>
<g font-family="Liberation Serif, serif" font-weight="bold" font-size="71" fill="#000" text-anchor="middle">
<text x="400" y="2147">60.33</text>
<text x="650" y="1496">1186</text>
<text x="896" y="1498.5">1181</text>
<text x="1145.5" y="1571">1057</text>
<text x="1392.5" y="1866">545.3</text>
</g>
<g font-family="Liberation Serif, serif" font-weight="bold" font-size="94" fill="#000" text-anchor="middle">
<text x="418" y="2361">(a)</text>
<text x="665.5" y="2361">(b)</text>
<text x="913" y="2361">(c)</text>
<text x="1160.5" y="2361">(d)</text>
<text x="1409.5" y="2361">(e)</text>
</g>
<text x="37.5" y="1266.5" font-family="Liberation Serif, serif" font-weight="bold" font-size="95" fill="#000">(B)</text>
<text transform="translate(88 1967) rotate(-90)" font-family="Liberation Serif, serif" font-weight="bold" font-size="92" fill="#000">R<tspan dy="16" dx="4">et</tspan><tspan dy="-16" dx="-7"> </tspan><tspan font-size="100" dy="3">(</tspan><tspan dy="-3" dx="-4">Ω</tspan><tspan font-size="100" dy="3" dx="-3">)</tspan></text>
</g>
</svg>
</body></html>
